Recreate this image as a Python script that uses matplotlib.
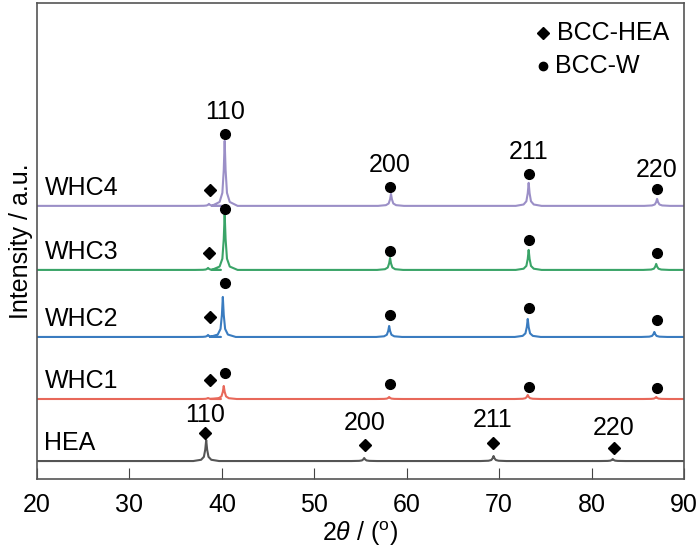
import numpy as np
import matplotlib
matplotlib.use("Agg")
import matplotlib.pyplot as plt

plt.rcParams['font.family'] = ['Liberation Sans', 'DejaVu Sans']
plt.rcParams['mathtext.fontset'] = 'custom'
plt.rcParams['mathtext.rm'] = 'Liberation Sans'
plt.rcParams['mathtext.it'] = 'Liberation Sans:italic'

# ---- data ----
samples = ['HEA', 'WHC1', 'WHC2', 'WHC3', 'WHC4']
colors = ['#555555', '#e8685a', '#3a7cc0', '#3aa468', '#9b8fc7']
offsets = [18, 80, 142, 209, 273]

# peak centres (2theta) and heights (a.u.) for every pattern
hea_pos = [38.3, 55.4, 69.4, 82.3]
hea_h = [21, 3, 5, 2]
whc1_pos = [38.5, 40.2, 58.1, 73.1, 87.0]
whc1_h = [1, 13, 2, 4, 2]
whc2_pos = [38.5, 40.1, 58.1, 73.1, 86.8]
whc2_h = [2, 40, 11, 18, 5]
whc3_pos = [38.5, 40.3, 58.2, 73.2, 87.0]
whc3_h = [2, 56, 12, 20, 6]
whc4_pos = [38.6, 40.3, 58.3, 73.2, 87.1]
whc4_h = [2, 65, 12, 23, 7]
peaks_pos = [hea_pos, whc1_pos, whc2_pos, whc3_pos, whc4_pos]
peaks_h = [hea_h, whc1_h, whc2_h, whc3_h, whc4_h]

# markers: diamond (BCC-HEA) and circle (BCC-W) positions, height above baseline
hea_marks_x = [38.2, 55.5, 69.3, 82.4]
hea_marks_y = [28, 16, 18, 13]
hea_lab_y = [46, 38, 41, 33]
hkl = ['110', '200', '211', '220']
dia_x = [38.7, 38.7, 38.6, 38.7]
dia_y = [19, 20, 17, 16]
w_x = [40.3, 58.2, 73.2, 87.1]
whc1_w = [26, 15, 12, 11]
whc2_w = [54, 22, 29, 17]
whc3_w = [61, 19, 30, 17]
whc4_w = [72, 19, 32, 17]
w_marks = [whc1_w, whc2_w, whc3_w, whc4_w]
whc4_lab_y = [94, 41, 54, 36]

# peak profile vertices (offset from centre, fraction of height)
prof_dx = [-1.4, -0.55, -0.25, -0.1, 0.0, 0.1, 0.25, 0.55, 1.4]
prof_f = [0.0, 0.06, 0.2, 0.55, 1.0, 0.55, 0.2, 0.06, 0.0]

fig = plt.figure(figsize=(7, 5.5), dpi=100)
ax = fig.add_axes([0.053, 0.129, 0.924, 0.866])

for name, col, off, pos, hh in zip(samples, colors, offsets, peaks_pos, peaks_h):
    xs = [20.0]
    ys = [0.0]
    for c, h in zip(pos, hh):
        for dx, f in zip(prof_dx, prof_f):
            xs.append(c + dx)
            ys.append(h * f)
    xs.append(90.0)
    ys.append(0.0)
    ax.plot(xs, np.array(ys) + off, color=col, lw=1.5)
    ax.text(20.8, off + 18, name, fontsize=18, va='center', ha='left')

# HEA markers and labels
for x, y, ly, t in zip(hea_marks_x, hea_marks_y, hea_lab_y, hkl):
    ax.plot(x, offsets[0] + y, 'D', color='k', ms=6.5)
    ax.text(x, offsets[0] + ly, t, fontsize=18, ha='center', va='center')

# WHC markers
for i in range(4):
    off = offsets[i + 1]
    ax.plot(dia_x[i], off + dia_y[i], 'D', color='k', ms=6.5)
    for x, y in zip(w_x, w_marks[i]):
        ax.plot(x, off + y, 'o', color='k', ms=7)

for x, y, t in zip(w_x, whc4_lab_y, hkl):
    ax.text(x, offsets[4] + y, t, fontsize=18, ha='center', va='center')

# legend
ax.plot(74.7, 446, 'D', color='k', ms=6)
ax.text(76.3, 446, 'BCC-HEA', fontsize=18, va='center')
ax.plot(74.8, 413, 'o', color='k', ms=6)
ax.text(76.0, 413, 'BCC-W', fontsize=18, va='center')

ax.set_xlim(20, 90)
ax.set_ylim(0, 476)
ax.set_xticks([20, 30, 40, 50, 60, 70, 80, 90])
ax.set_yticks([])
ax.tick_params(axis='x', direction='in', length=8, labelsize=18, pad=10, color='#444444')
for s in ax.spines.values():
    s.set_color('#555555')
    s.set_linewidth(1.2)
ax.set_xlabel(r'2$\it{\theta}$ / ($^{\rm o}$)', fontsize=18, labelpad=2)
ax.set_ylabel('Intensity / a.u.', fontsize=18, labelpad=3)

fig.savefig('out.png', dpi=100)
